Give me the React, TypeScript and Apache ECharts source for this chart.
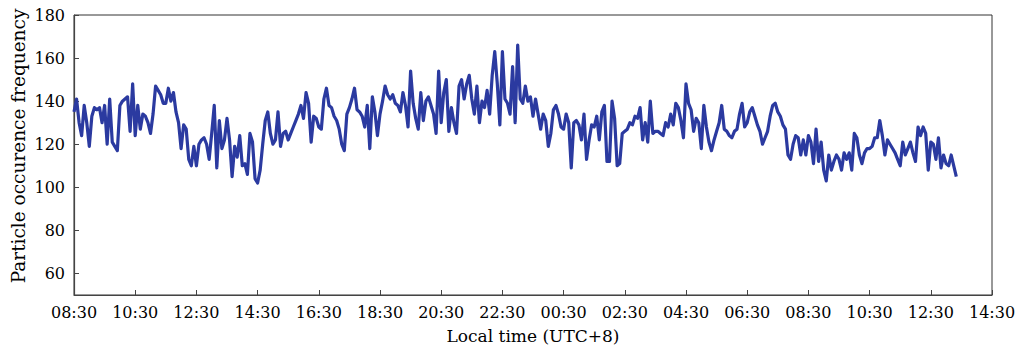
import React, { useEffect, useRef } from "react";
import * as echarts from "echarts";

// Particle occurrence frequency sampled every 5 minutes starting at 08:30 local time
const START_HOUR = 8.5;
const STEP_MINUTES = 5;
const frequency: number[] = [
  135, 141, 130, 124, 138, 130, 119, 133, 137, 136,
  137, 130, 138, 120, 141, 121, 119, 117, 138, 140,
  141, 142, 126, 148, 124, 138, 127, 134, 133, 130,
  125, 134, 147, 145, 143, 139, 139, 146, 140, 144,
  135, 130, 118, 129, 127, 113, 110, 119, 110, 120,
  122, 123, 120, 113, 125, 138,
  109, 131, 118, 122, 132, 122, 105, 119, 114, 124,
  110, 111, 106, 125, 121, 104, 102, 108, 120, 131,
  135, 125, 120, 122, 135, 119, 125, 126, 122, 125,
  128, 131, 134, 138, 132, 144, 139, 121, 133, 132,
  128, 127, 141, 146, 138, 137, 133, 131, 127, 120,
  117, 134, 137, 141, 146, 136,
  135, 133, 128, 138, 118, 142, 135, 124, 134, 140,
  147, 143, 141, 143, 139, 138, 135, 144, 138, 128,
  154, 139, 132, 127, 144, 131, 140, 142, 138, 134,
  125, 154, 130, 144, 150, 126, 137, 130, 125, 147,
  150, 141, 148, 152, 141, 134, 147, 130, 140, 137,
  145, 134, 152, 163, 148, 129, 163,
  141, 139, 134, 156, 130, 166, 141, 139, 147, 140,
  142, 133, 141, 134, 127, 134, 131, 119, 125, 136,
  138, 134, 128, 127, 134, 130, 109, 130, 131, 129,
  122, 134, 113, 122, 129, 128, 133, 122, 135, 138,
  112, 112, 140, 132, 110, 111, 125, 126, 127, 130,
  129, 133, 132, 137, 122, 130, 121,
  140, 125, 126, 126, 125, 124, 130, 128, 134, 129,
  139, 137, 131, 123, 148, 139, 136, 126, 132, 130,
  118, 138, 128, 121, 117, 122, 126, 130, 138, 127,
  126, 124, 123, 126, 127, 134, 139, 128, 130, 135,
  137, 133, 129, 126, 120, 123, 126, 133, 138, 139,
  135, 133, 129, 127, 115, 113, 120,
  124, 123, 115, 122, 115, 124, 121, 111, 127, 112,
  121, 108, 103, 115, 108, 112, 115, 113, 108, 116,
  113, 116, 108, 125, 123, 115, 111, 116, 118, 118,
  119, 123, 123, 131, 124, 115, 122, 120, 118, 116,
  113, 110, 121, 115, 118, 121, 116, 112, 128, 124,
  128, 125, 108, 121, 120, 113, 123, 109, 115, 111,
  110, 115, 110, 105,
];

const X_SPAN_HOURS = 30;
const X_TICK_HOURS = 2;
const Y_MIN = 50;
const Y_MAX = 180;

const FONT = "'DejaVu Serif', serif";

function clockLabel(offsetHours: number): string {
  const total = START_HOUR + offsetHours;
  const h = Math.floor(total) % 24;
  const m = Math.round((total - Math.floor(total)) * 60);
  return `${String(h).padStart(2, "0")}:${String(m).padStart(2, "0")}`;
}

export default function App() {
  const ref = useRef<HTMLDivElement>(null);

  useEffect(() => {
    if (!ref.current) return;
    const chart = echarts.init(ref.current, undefined, { renderer: "svg" });
    const points = frequency.map((v, i) => [(i * STEP_MINUTES) / 60, v]);

    chart.setOption({
      animation: false,
      backgroundColor: "#ffffff",
      grid: {
        left: 74,
        right: 30,
        top: 15,
        bottom: 52,
        show: true,
        borderColor: "#333",
        borderWidth: 1,
      },
      xAxis: {
        type: "value",
        min: 0,
        max: X_SPAN_HOURS,
        interval: X_TICK_HOURS,
        name: "Local time (UTC+8)",
        nameLocation: "middle",
        nameGap: 32,
        nameTextStyle: { fontFamily: FONT, fontSize: 17, color: "#000" },
        axisLine: { show: true, lineStyle: { color: "#444", width: 1.2 } },
        axisTick: { show: true, inside: true, length: 5, lineStyle: { color: "#444" } },
        axisLabel: {
          fontFamily: FONT,
          fontSize: 16,
          color: "#000",
          margin: 9,
          formatter: (v: number) => clockLabel(v),
        },
        splitLine: { show: false },
      },
      yAxis: {
        type: "value",
        min: Y_MIN,
        max: Y_MAX,
        splitNumber: 6,
        axisLine: { show: true, lineStyle: { color: "#444", width: 1.2 } },
        axisTick: { show: true, inside: true, length: 5, lineStyle: { color: "#444" } },
        axisLabel: {
          fontFamily: FONT,
          fontSize: 16,
          color: "#000",
          margin: 9,
          showMinLabel: false,
          formatter: (v: number) => (v % 20 === 0 ? String(v) : ""),
        },
        splitLine: { show: false },
      },
      graphic: [
        {
          type: "text",
          x: 18,
          y: 146,
          rotation: Math.PI / 2,
          style: {
            text: "Particle occurence frequency",
            fontFamily: FONT,
            fontSize: 18.5,
            fill: "#000",
            textAlign: "center",
            textVerticalAlign: "middle",
          },
        },
      ],
      series: [
        {
          type: "line",
          data: points,
          showSymbol: false,
          symbol: "none",
          lineStyle: { color: "#2b3aa0", width: 3.2, join: "round" },
        },
      ],
    });

    return () => chart.dispose();
  }, []);

  return (
    <div
      ref={ref}
      style={{ position: "fixed", left: 0, top: 0, width: 1022, height: 349 }}
    />
  );
}
